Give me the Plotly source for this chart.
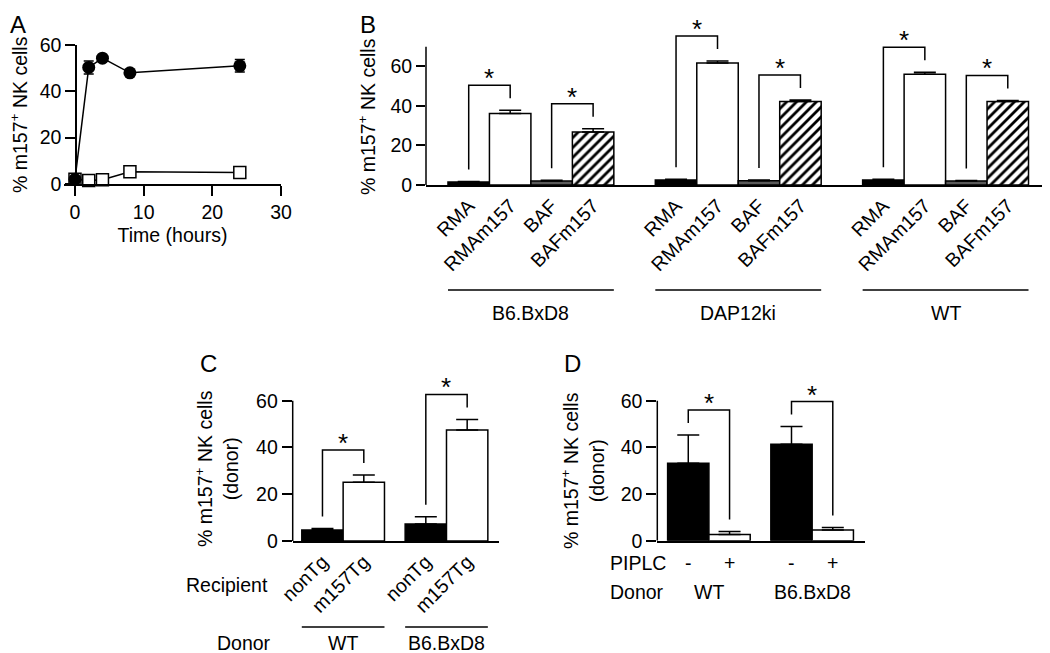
import plotly.graph_objects as go

W, H = 1050, 653
OFF = 8   # the page body adds an 8px margin around the figure

# ---------------- data ----------------
# Panel A: time course
A_time = [0, 2, 4, 8, 24]
A_m157 = [2.0, 50.3, 54.3, 48.0, 51.0]
A_m157_err = [0.4, 2.8, 1.0, 0.8, 2.7]
A_ctrl = [2.0, 1.5, 1.8, 5.3, 5.0]

# Panel B
B_donors = ["B6.BxD8", "DAP12ki", "WT"]
B_targets = ["RMA", "RMAm157", "BAF", "BAFm157"]
B_rma = [1.5, 2.5, 2.5]
B_rma_err = [0.3, 0.4, 0.4]
B_rmam157 = [36.2, 61.8, 56.1]
B_rmam157_err = [1.6, 1.0, 1.0]
B_baf = [2.0, 2.2, 2.0]
B_baf_err = [0.4, 0.3, 0.3]
B_bafm157 = [26.8, 42.2, 42.2]
B_bafm157_err = [1.7, 0.8, 0.6]

# Panel C
C_donors = ["WT", "B6.BxD8"]
C_recipients = ["nonTg", "m157Tg"]
C_nontg = [4.7, 7.3]
C_nontg_err = [0.6, 3.1]
C_m157tg = [25.1, 47.5]
C_m157tg_err = [3.1, 4.5]

# Panel D
D_donors = ["WT", "B6.BxD8"]
D_piplc = ["-", "+"]
D_untreated = [33.2, 41.3]
D_untreated_err = [12.1, 7.6]
D_treated = [2.7, 4.6]
D_treated_err = [1.2, 1.1]

# ---------------- helpers ----------------
def fx(p):
    return (p - OFF) / W

def fy(p):
    return 1 - (p - OFF) / H

FAM = "Liberation Sans, Arial, sans-serif"
FS = 19.5
FONT = dict(family=FAM, size=FS, color="black")
LW = 1.5

fig = go.Figure()
annotations = []
shapes = []


def err(arr):
    return dict(type="data", symmetric=False, array=arr, arrayminus=[0] * len(arr),
                color="black", thickness=LW, width=11)


def add_bars(x, y, e, xa, ya, color, pattern=None):
    marker = dict(color=color, line=dict(color="black", width=LW))
    if pattern:
        marker["pattern"] = dict(shape=pattern, fgcolor="black", bgcolor="white",
                                 size=7, solidity=0.4)
    fig.add_trace(go.Bar(x=x, y=y, width=1.0, marker=marker, error_y=err(e),
                         xaxis=xa, yaxis=ya, showlegend=False, cliponaxis=False))


GAP_PX, RISE_PX = 12, 13


def bracket(xa, ya, x0, x1, h0, h1, u_per_px):
    l0 = h0 + GAP_PX * u_per_px
    l1 = h1 + GAP_PX * u_per_px
    top = max(l0, l1) + RISE_PX * u_per_px
    fig.add_trace(go.Scatter(x=[x0, x0, x1, x1], y=[l0, top, top, l1], mode="lines",
                             line=dict(color="black", width=LW), xaxis=xa, yaxis=ya,
                             showlegend=False, cliponaxis=False, hoverinfo="skip"))
    annotations.append(dict(x=(x0 + x1) / 2, y=top, xref=xa, yref=ya, text="*",
                            showarrow=False, yanchor="bottom", yshift=-10,
                            font=dict(family=FAM, size=26, color="black")))


def text(x, y, s, xanchor="center", size=FS, angle=0, yanchor="middle"):
    annotations.append(dict(x=fx(x), y=fy(y), xref="paper", yref="paper",
                            text=s, showarrow=False, xanchor=xanchor, yanchor=yanchor,
                            textangle=angle, font=dict(family=FAM, size=size, color="black")))


def yline(xa, ya, top):
    # visible y-axis line from 0 up to the last tick
    shapes.append(dict(type="line", xref=xa + " domain", yref=ya, x0=0, x1=0, y0=0, y1=top,
                       line=dict(color="black", width=LW)))


# ---------------- Panel A ----------------
fig.add_trace(go.Scatter(x=A_time, y=A_ctrl, mode="lines+markers", xaxis="x", yaxis="y",
                         line=dict(color="black", width=LW),
                         marker=dict(symbol="square", size=12, color="white",
                                     line=dict(color="black", width=LW)),
                         showlegend=False, cliponaxis=False))
fig.add_trace(go.Scatter(x=A_time, y=A_m157, mode="lines+markers", xaxis="x", yaxis="y",
                         line=dict(color="black", width=LW),
                         marker=dict(symbol="circle", size=13, color="black"),
                         error_y=dict(type="data", array=A_m157_err, color="black",
                                      thickness=LW, width=5),
                         showlegend=False, cliponaxis=False))

# ---------------- Panel B ----------------
B_series = [
    (B_rma, B_rma_err, "black", None),
    (B_rmam157, B_rmam157_err, "white", None),
    (B_baf, B_baf_err, "#5a5a5a", None),
    (B_bafm157, B_bafm157_err, "white", "/"),
]
B_tickvals, B_ticktext = [], []
for g in range(len(B_donors)):
    for t, name in enumerate(B_targets):
        B_tickvals.append(g * 5 + t)
        B_ticktext.append(name)
for t, (vals, errs, col, pat) in enumerate(B_series):
    add_bars([g * 5 + t for g in range(len(B_donors))], vals, errs, "x2", "y2", col, pat)

B_pxu = (185 - 46.7) / 70          # pixels per unit
B_u = 1 / B_pxu
for g in range(len(B_donors)):
    bracket("x2", "y2", g * 5 + 0, g * 5 + 1, B_rma[g] + B_rma_err[g],
            B_rmam157[g] + B_rmam157_err[g], B_u)
    bracket("x2", "y2", g * 5 + 2, g * 5 + 3, B_baf[g] + B_baf_err[g],
            B_bafm157[g] + B_bafm157_err[g], B_u)
    shapes.append(dict(type="line", xref="x2", yref="paper", x0=g * 5 - 0.5, x1=g * 5 + 3.5,
                       y0=fy(290), y1=fy(290), line=dict(color="black", width=LW)))
    annotations.append(dict(x=g * 5 + 1.5, y=fy(313), xref="x2", yref="paper", text=B_donors[g],
                            showarrow=False, font=FONT, yanchor="middle"))
yline("x2", "y2", 70)

# ---------------- Panel C ----------------
C_x0 = [g * 2.5 for g in range(len(C_donors))]
C_x1 = [g * 2.5 + 1 for g in range(len(C_donors))]
add_bars(C_x0, C_nontg, C_nontg_err, "x3", "y3", "black")
add_bars(C_x1, C_m157tg, C_m157tg_err, "x3", "y3", "white")
C_pxu = (541 - 400.7) / 60
C_u = 1 / C_pxu
for g in range(len(C_donors)):
    bracket("x3", "y3", C_x0[g], C_x1[g], C_nontg[g] + C_nontg_err[g],
            C_m157tg[g] + C_m157tg_err[g], C_u)
    shapes.append(dict(type="line", xref="x3", yref="paper", x0=C_x0[g] - 0.5, x1=C_x1[g] + 0.5,
                       y0=fy(627), y1=fy(627), line=dict(color="black", width=LW)))
    annotations.append(dict(x=(C_x0[g] + C_x1[g]) / 2, y=fy(643), xref="x3", yref="paper",
                            text=C_donors[g], showarrow=False, font=FONT, yanchor="middle"))
yline("x3", "y3", 60)
text(270, 585, "Recipient", xanchor="right")
text(215, 643, "Donor", xanchor="left")

# ---------------- Panel D ----------------
D_x0 = [g * 2.5 for g in range(len(D_donors))]
D_x1 = [g * 2.5 + 1 for g in range(len(D_donors))]
add_bars(D_x0, D_untreated, D_untreated_err, "x4", "y4", "black")
add_bars(D_x1, D_treated, D_treated_err, "x4", "y4", "white")
D_pxu = (540.7 - 400.7) / 60
D_u = 1 / D_pxu
for g in range(len(D_donors)):
    bracket("x4", "y4", D_x0[g], D_x1[g], D_untreated[g] + D_untreated_err[g],
            D_treated[g] + D_treated_err[g], D_u)
    for xv, s in zip([D_x0[g], D_x1[g]], D_piplc):
        annotations.append(dict(x=xv, y=fy(563), xref="x4", yref="paper", text=s,
                                showarrow=False, font=FONT, yanchor="middle"))
    annotations.append(dict(x=(D_x0[g] + D_x1[g]) / 2, y=fy(592), xref="x4", yref="paper",
                            text=D_donors[g], showarrow=False, font=FONT, yanchor="middle"))
yline("x4", "y4", 60)
text(608, 563, "PIPLC", xanchor="left")
text(608, 592, "Donor", xanchor="left")

# ---------------- titles / panel letters ----------------
YT = "% m157<sup>+</sup> NK cells"
text(19, 115, YT, angle=-90)
text(367, 117, YT, angle=-90)
text(217, 469, YT + "<br>(donor)", angle=-90)
text(583, 471, YT + "<br>(donor)", angle=-90)
text(18, 9, "A", size=24, yanchor="top")
text(368, 9, "B", size=24, yanchor="top")
text(208, 364, "C", size=24)
text(572, 364, "D", size=24)

# ---------------- axes ----------------
ax_common = dict(showgrid=False, zeroline=False, automargin=False,
                 tickfont=FONT, tickcolor="black", tickwidth=LW)
line_on = dict(showline=True, linecolor="black", linewidth=LW)

B_top = 80      # extended ranges so brackets above the last tick are not clipped
C_top = 67
D_top = 66

fig.update_layout(
    template="none",
    width=W, height=H, margin=dict(l=0, r=0, t=0, b=0, pad=0), autosize=False,
    paper_bgcolor="white", plot_bgcolor="white", showlegend=False, barmode="overlay",
    font=FONT,
    xaxis=dict(domain=[fx(64), fx(281)], range=[-1.6, 30], anchor="y", ticks="outside", ticklen=10,
               tickvals=[0, 10, 20, 30],
               title=dict(text="Time (hours)", font=FONT, standoff=6), **ax_common, **line_on),
    yaxis=dict(domain=[fy(184), fy(45)], range=[0, 60], anchor="free", position=fx(76),
               ticks="outside", ticklen=10, tickvals=[0, 20, 40, 60], **ax_common, **line_on),
    xaxis2=dict(domain=[fx(426), fx(1048)], range=[-1.03, 13.97], anchor="y2", ticks="",
                tickvals=B_tickvals, ticktext=B_ticktext, tickangle=-45, **ax_common, **line_on),
    yaxis2=dict(domain=[fy(185), fy(185 - B_top * B_pxu)], range=[0, B_top], anchor="x2",
                ticks="outside", ticklen=9, tickvals=[0, 20, 40, 60], showline=False, **ax_common),
    xaxis3=dict(domain=[fx(292.7), fx(499)], range=[-0.72, 4.27], anchor="y3", ticks="",
                tickvals=C_x0 + C_x1, ticktext=[C_recipients[0]] * 2 + [C_recipients[1]] * 2,
                tickangle=-45, **ax_common, **line_on),
    yaxis3=dict(domain=[fy(541), fy(541 - C_top * C_pxu)], range=[0, C_top], anchor="x3",
                ticks="outside", ticklen=10, tickvals=[0, 20, 40, 60], showline=False, **ax_common),
    xaxis4=dict(domain=[fx(657.3), fx(865)], range=[-0.75, 4.28], anchor="y4", ticks="",
                showticklabels=False, **ax_common, **line_on),
    yaxis4=dict(domain=[fy(540.7), fy(540.7 - D_top * D_pxu)], range=[0, D_top], anchor="x4",
                ticks="outside", ticklen=10, tickvals=[0, 20, 40, 60], showline=False, **ax_common),
    annotations=annotations,
    shapes=shapes,
)

fig.write_html("out.html")
